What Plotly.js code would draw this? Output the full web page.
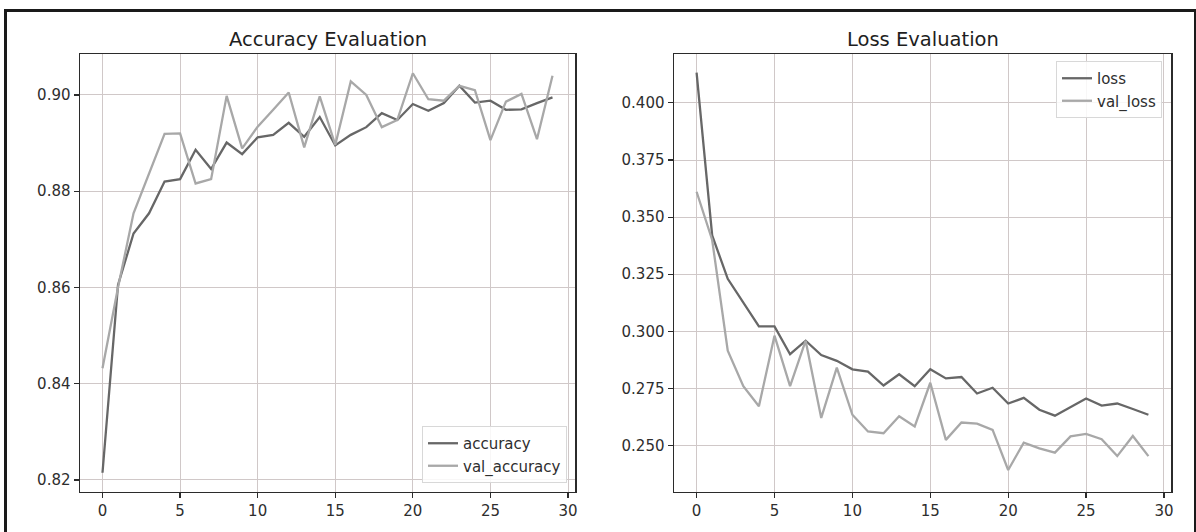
<!DOCTYPE html>
<html>
<head>
<meta charset="utf-8">
<script src="https://cdn.plot.ly/plotly-3.0.1.min.js"></script>
<style>
  html, body { margin: 0; padding: 0; background: #fff; }
  #wrap { position: relative; width: 1196px; height: 532px; overflow: hidden; }
  #chart { width: 1196px; height: 532px; }
  #frame { position: absolute; left: 4px; top: 9px; width: 1187px; height: 600px;
           border: 3px solid #1a1a1a; pointer-events: none; }
</style>
</head>
<body>
<div id="wrap">
  <div id="chart"></div>
  <div id="frame"></div>
</div>
<script>
const epochs = Array.from({length: 30}, (_, i) => i);

const accuracy = [0.8215, 0.8605, 0.8712, 0.8754, 0.8820, 0.8825, 0.8886, 0.8846, 0.8901, 0.8877,
                  0.8912, 0.8917, 0.8942, 0.8913, 0.8954, 0.8895, 0.8917, 0.8933, 0.8962, 0.8948,
                  0.8981, 0.8967, 0.8983, 0.9019, 0.8984, 0.8988, 0.8969, 0.8970, 0.8983, 0.8995];
const val_accuracy = [0.8432, 0.8600, 0.8754, 0.8837, 0.8919, 0.8920, 0.8816, 0.8825, 0.8998, 0.8889,
                      0.8934, 0.8969, 0.9005, 0.8891, 0.8997, 0.8896, 0.9028, 0.9000, 0.8933, 0.8948,
                      0.9045, 0.8991, 0.8988, 0.9019, 0.9010, 0.8906, 0.8986, 0.9002, 0.8908, 0.9040];
const loss = [0.4132, 0.3420, 0.3230, 0.3128, 0.3022, 0.3022, 0.2900, 0.2959, 0.2896, 0.2871,
              0.2834, 0.2824, 0.2763, 0.2812, 0.2760, 0.2834, 0.2794, 0.2800, 0.2728, 0.2753,
              0.2684, 0.2709, 0.2657, 0.2631, 0.2669, 0.2706, 0.2675, 0.2684, 0.2660, 0.2635];
const val_loss = [0.3611, 0.3400, 0.2915, 0.2760, 0.2672, 0.2981, 0.2760, 0.2959, 0.2621, 0.2841,
                  0.2635, 0.2562, 0.2554, 0.2628, 0.2584, 0.2775, 0.2525, 0.2601, 0.2596, 0.2569,
                  0.2393, 0.2513, 0.2488, 0.2469, 0.2540, 0.2551, 0.2528, 0.2454, 0.2542, 0.2454];

const xTicks = [0, 5, 10, 15, 20, 25, 30];
const accTicks = [0.82, 0.84, 0.86, 0.88, 0.90];
const lossTicks = [0.250, 0.275, 0.300, 0.325, 0.350, 0.375, 0.400];
const titles = ["Accuracy Evaluation", "Loss Evaluation"];

const DARK = "#676767", LIGHT = "#a8a8a8";
const FONT = "DejaVu Sans";

const traces = [
  {x: epochs, y: accuracy, name: "accuracy", mode: "lines", line: {color: DARK, width: 2.3}, xaxis: "x", yaxis: "y", legend: "legend"},
  {x: epochs, y: val_accuracy, name: "val_accuracy", mode: "lines", line: {color: LIGHT, width: 2.3}, xaxis: "x", yaxis: "y", legend: "legend"},
  {x: epochs, y: loss, name: "loss", mode: "lines", line: {color: DARK, width: 2.3}, xaxis: "x2", yaxis: "y2", legend: "legend2"},
  {x: epochs, y: val_loss, name: "val_loss", mode: "lines", line: {color: LIGHT, width: 2.3}, xaxis: "x2", yaxis: "y2", legend: "legend2"}
];

const W = 1196, H = 532;
const axCommon = {
  showgrid: true, gridcolor: "#d0c8c8", gridwidth: 1,
  showline: true, linecolor: "#2b2b2b", linewidth: 1.5, mirror: true,
  ticks: "outside", ticklen: 5, tickwidth: 1.2, tickcolor: "#2b2b2b",
  zeroline: false, tickfont: {family: FONT, size: 15, color: "#2e2e2e"}
};
const yDom = [1 - 491.5 / H, 1 - 54 / H];

const layout = {
  width: W, height: H,
  margin: {l: 0, r: 0, t: 0, b: 0},
  paper_bgcolor: "#ffffff", plot_bgcolor: "#ffffff",
  font: {family: FONT, color: "#333"},
  showlegend: true,
  xaxis: Object.assign({}, axCommon, {domain: [80 / W, 575 / W], range: [-1.45, 30.45], tickvals: xTicks, anchor: "y"}),
  yaxis: Object.assign({}, axCommon, {domain: yDom, range: [0.8176, 0.9085], tickvals: accTicks, tickformat: ".2f", anchor: "x"}),
  xaxis2: Object.assign({}, axCommon, {domain: [674 / W, 1171 / W], range: [-1.45, 30.45], tickvals: xTicks, anchor: "y2"}),
  yaxis2: Object.assign({}, axCommon, {domain: yDom, range: [0.2299, 0.4214], tickvals: lossTicks, tickformat: ".3f", anchor: "x2"}),
  legend: {
    x: 567 / W, xanchor: "right", y: 1 - 483 / H, yanchor: "bottom",
    bgcolor: "rgba(255,255,255,0.85)", bordercolor: "#d8d8d8", borderwidth: 1,
    font: {family: FONT, size: 15, color: "#2e2e2e"}, tracegroupgap: 0
  },
  legend2: {
    x: 1162 / W, xanchor: "right", y: 1 - 61 / H, yanchor: "top",
    bgcolor: "rgba(255,255,255,0.85)", bordercolor: "#d8d8d8", borderwidth: 1,
    font: {family: FONT, size: 15, color: "#2e2e2e"}, tracegroupgap: 0
  },
  annotations: [
    {text: titles[0], xref: "paper", yref: "paper", x: 327.5 / W, y: 1 - 39 / H, xanchor: "center", yanchor: "middle",
     showarrow: false, font: {family: FONT, size: 19.5, color: "#1e1e1e"}},
    {text: titles[1], xref: "paper", yref: "paper", x: 922.5 / W, y: 1 - 39 / H, xanchor: "center", yanchor: "middle",
     showarrow: false, font: {family: FONT, size: 19.5, color: "#1e1e1e"}}
  ]
};

Plotly.newPlot("chart", traces, layout, {displayModeBar: false, staticPlot: true});
</script>
</body>
</html>
